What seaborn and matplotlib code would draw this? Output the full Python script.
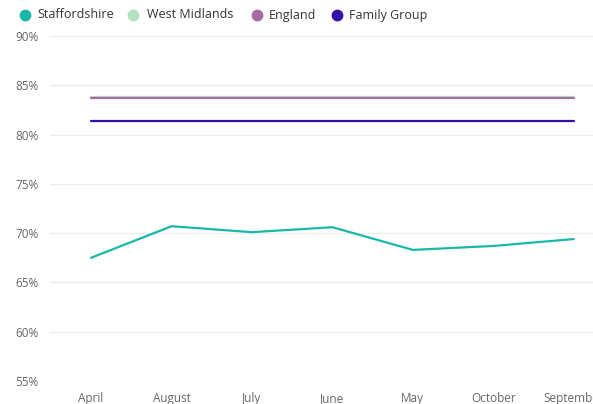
import matplotlib
matplotlib.use("Agg")
import matplotlib.pyplot as plt
import seaborn as sns
import pandas as pd
from matplotlib.lines import Line2D

months = ["April", "August", "July", "June", "May", "October", "September"]
staffordshire = [67.5, 70.7, 70.1, 70.6, 68.3, 68.7, 69.4]
west_midlands = [83.8] * 7
england = [83.7] * 7
family_group = [81.4] * 7
series_names = ["Staffordshire", "West Midlands", "England", "Family Group"]
colors = ["#19B8A8", "#B6E2C1", "#A66CA3", "#3311A8"]
yticks = [55, 60, 65, 70, 75, 80, 85, 90]

rows = []
for name, vals in zip(series_names, [staffordshire, west_midlands, england, family_group]):
    for m, v in zip(months, vals):
        rows.append({"Month": m, "Value": v, "Series": name})
df = pd.DataFrame(rows)

sns.set_theme(style="white")
plt.rcParams["font.family"] = ["Open Sans", "DejaVu Sans"]

W, H = 593, 404
fig = plt.figure(figsize=(W / 100, H / 100), dpi=100)
ax = fig.add_axes([50 / W, 23 / H, 564 / W, 345 / H])
sns.lineplot(data=df, x="Month", y="Value", hue="Series", palette=dict(zip(series_names, colors)),
             hue_order=series_names, linewidth=1.6, ax=ax, legend=False, sort=False)

ax.set_ylim(55, 90)
ax.set_xlim(-0.51, 6.5)
ax.set_yticks(yticks)
ax.set_yticklabels([f"{t}%" for t in yticks])
ax.grid(axis="y", color="#ececec", linewidth=0.9)
ax.set_axisbelow(True)
for s in ax.spines.values():
    s.set_visible(False)
ax.set_xlabel("")
ax.set_ylabel("")
ax.tick_params(axis="y", length=0, pad=8, labelsize=8.5, labelcolor="#666666")
ax.tick_params(axis="x", length=0, pad=8, labelsize=8.5, labelcolor="#666666")

# legend, laid out manually to match the reference spacing
marker_x = [25, 133, 257, 337]
text_x = [37, 147, 269, 349]
ly = 1 - 15 / H
for name, c, mx, tx in zip(series_names, colors, marker_x, text_x):
    fig.add_artist(Line2D([mx / W], [ly], linestyle="none", marker="o", markersize=7.5,
                          color=c, transform=fig.transFigure))
    fig.text(tx / W, ly, name, ha="left", va="center", fontsize=9, color="#333333")

fig.savefig("out.png", dpi=100)
